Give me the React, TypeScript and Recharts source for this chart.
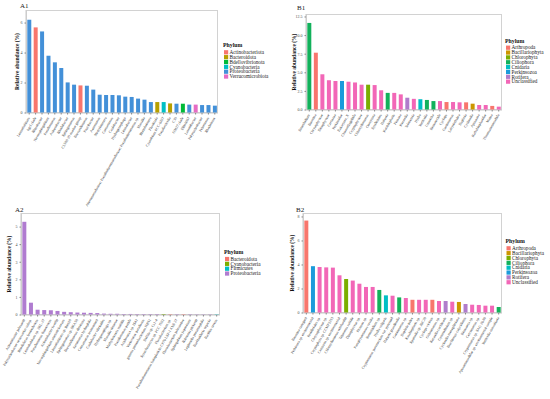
import { BarChart, Bar, XAxis, YAxis, Cell } from 'recharts';

const FONT = '"Liberation Serif", "DejaVu Serif", serif';

// A1 - bacterial genera
const a1Taxa = [
  'Limnohabitans', 'hgcI clade', 'Rhizobacter', 'Novosphingobium', 'Pseudomonas', 'Acinetobacter',
  'Rhodobacter', 'Sphingomonas', 'CL500-29 marine group', 'Brevundimonas', 'Paucibacter', 'Aeromonas',
  'Methylotenera', 'Comamonas', 'Caulobacter', 'Hydrogenophaga', 'Limnobacter',
  'Alteromonadaceae; Pseudoalteromonadaceae; Pseudoalteromonas sp.', 'Massilia', 'Rheinheimera',
  'Fluviicola', 'Cyanobium PCC-6307', 'Pseudarcicella', 'C39', 'OM27 clade', 'Ellin6067',
  'Luteolibacter', 'Polynucleobacter', 'Pelomonas', 'Rhodoferax',
];
const a1Abund = [
  6.22, 5.71, 5.44, 3.82, 3.38, 3.0, 2.04, 1.89, 1.84, 1.82, 1.56, 1.22, 1.2, 1.2, 1.18,
  1.09, 1.07, 0.96, 0.89, 0.73, 0.73, 0.73, 0.64, 0.62, 0.62, 0.56, 0.56, 0.53, 0.53, 0.49,
];
const a1Phyla = [
  'Proteobacteria', 'Actinobacteriota', 'Proteobacteria', 'Proteobacteria', 'Proteobacteria', 'Proteobacteria',
  'Proteobacteria', 'Proteobacteria', 'Actinobacteriota', 'Proteobacteria', 'Proteobacteria', 'Proteobacteria',
  'Proteobacteria', 'Proteobacteria', 'Proteobacteria', 'Proteobacteria', 'Proteobacteria', 'Proteobacteria',
  'Proteobacteria', 'Proteobacteria', 'Bacteroidota', 'Cyanobacteria', 'Bacteroidota', 'Proteobacteria',
  'Bdellovibrionota', 'Proteobacteria', 'Verrucomicrobiota', 'Proteobacteria', 'Proteobacteria', 'Proteobacteria',
];
const a1Colors: Record<string, string> = {
  Actinobacteriota: '#F8766D',
  Bacteroidota: '#B79F00',
  Bdellovibrionota: '#00BA38',
  Cyanobacteria: '#00BFC4',
  Proteobacteria: '#4390D8',
  Verrucomicrobiota: '#E56CC4',
};

// B1 - eukaryotic genera
const b1Taxa = [
  'Strombidium', 'Bosmina', 'Chrysophyceae', 'Dinophyceae', 'Cercozoa', 'Perkinsidae',
  'Eukaryota_X', 'Choanoflagellida', 'Cryptophyceae', 'Chlamydomonas', 'Oomycota', 'Syndiniales',
  'Halteria', 'Katablepharis', 'Picozoa', 'Keratella', 'Telonemia', 'Hydra', 'Vorticella', 'Urotricha',
  'Bicosoecida', 'Cyclops', 'Goniomonas', 'Labyrinthulea', 'Daphnia', 'Cyclotella', 'Apusozoa',
  'Kathablepharidae', 'Moina', 'Thaumatomonadida',
];
const b1Abund = [
  11.7, 7.7, 4.8, 4.0, 3.9, 3.9, 3.8, 3.7, 3.4, 3.4, 3.35, 2.65, 2.3, 2.3, 2.1,
  1.65, 1.5, 1.45, 1.35, 1.2, 1.2, 1.07, 1.07, 1.03, 1.03, 0.85, 0.67, 0.67, 0.55, 0.45,
];
const b1Phyla = [
  'Ciliophora', 'Arthropoda', 'Unclassified', 'Unclassified', 'Unclassified', 'Perkinsozoa',
  'Unclassified', 'Unclassified', 'Unclassified', 'Chlorophyta', 'Unclassified', 'Unclassified',
  'Ciliophora', 'Unclassified', 'Unclassified', 'Rotifera', 'Unclassified', 'Cnidaria',
  'Ciliophora', 'Ciliophora', 'Unclassified', 'Arthropoda', 'Unclassified', 'Unclassified',
  'Arthropoda', 'Bacillariophyta', 'Unclassified', 'Unclassified', 'Arthropoda', 'Unclassified',
];
const bColors: Record<string, string> = {
  Arthropoda: '#F8766D',
  Bacillariophyta: '#CD9600',
  Chlorophyta: '#7CAE00',
  Ciliophora: '#12B15B',
  Cnidaria: '#00BFC4',
  Perkinsozoa: '#1A9BDB',
  Rotifera: '#B07CCB',
  Unclassified: '#F267B7',
};

// A2 - bacterial species
const a2Taxa = [
  'Acinetobacter johnsonii', 'Polynucleobacter necessarius subsp.', 'Rhodoferax ferrireducens',
  'Limnohabitans sp. 2KL-27', 'Pseudomonas fluorescens', 'Acinetobacter lwoffii',
  'Novosphingobium aromaticivorans', 'Limnohabitans sp. Rim28', 'Sphingomonas sp. SKA58',
  'Brevundimonas diminuta', 'Aeromonas hydrophila', 'Comamonas testosteroni', 'Caulobacter vibrioides',
  'Hydrogenophaga sp.', 'Massilia timonae', 'Methylotenera mobilis', 'Pseudomonas putida',
  'Acidovorax sp. JS42', 'Variovorax paradoxus', 'gamma proteobacterium HdN1', 'Delftia sp. Cs1-4',
  'Synechococcus sp. PCC 7502', 'Flavobacterium sp.', 'Pseudoalteromonas haloplanktis CP76 LSP-1 ANS 27',
  'Flavobacterium johnsoniae', 'Sphingobium japonicum', 'Ralstonia pickettii', 'Legionella pneumophila',
  'Burkholderia cepacia', 'Bacillus cereus',
];
const a2Abund = [
  5.3, 0.7, 0.3, 0.28, 0.27, 0.23, 0.18, 0.16, 0.14, 0.13, 0.12, 0.11, 0.08, 0.07, 0.07,
  0.06, 0.06, 0.05, 0.05, 0.05, 0.05, 0.05, 0.04, 0.04, 0.04, 0.04, 0.03, 0.03, 0.03, 0.03,
];
const a2Phyla = [
  'Proteobacteria', 'Proteobacteria', 'Proteobacteria', 'Proteobacteria', 'Proteobacteria', 'Proteobacteria',
  'Proteobacteria', 'Proteobacteria', 'Proteobacteria', 'Proteobacteria', 'Proteobacteria', 'Proteobacteria',
  'Proteobacteria', 'Proteobacteria', 'Proteobacteria', 'Proteobacteria', 'Proteobacteria', 'Proteobacteria',
  'Proteobacteria', 'Proteobacteria', 'Proteobacteria', 'Cyanobacteria', 'Bacteroidota', 'Proteobacteria',
  'Bacteroidota', 'Proteobacteria', 'Proteobacteria', 'Proteobacteria', 'Proteobacteria', 'Firmicutes',
];
const a2Colors: Record<string, string> = {
  Bacteroidota: '#F8766D',
  Cyanobacteria: '#7CAE00',
  Firmicutes: '#00BFC4',
  Proteobacteria: '#B07CD0',
};

// B2 - eukaryotic species
const b2Taxa = [
  'Bosmina coregoni', 'Perkinsea sp. environmental', 'Peridiniales sp.', 'Chrysophyceae sp.',
  'Cryptophyta sp. CCMP2293', 'Cercozoa sp. environmental', 'Chlamydomonas reinhardtii', 'Telonema subtile',
  'Dinophyceae sp.', 'Picozoa sp.', 'Paraphysomonas vestita', 'Strombidium sp.', 'Hydra vulgaris',
  'Cryptomonas paramecium var. pyrenoid', 'Halteria grandinella', 'Goniomonas sp.', 'Daphnia pulex',
  'Katablepharis sp.', 'Spumella sp. JBC28', 'Cyclops vicinus', 'Ochromonas sp.', 'Keratella cochlearis',
  'Gymnodinium sp.', 'Cyclotella meneghiniana', 'Brachionus calyciflorus', 'Bicosoeca sp.',
  'Cercomonas sp.', 'Cryptomonas sp. SAG 26.80', 'Apusomonadidae sp. environmental sample',
  'Vorticella convallaria',
];
const b2Abund = [
  7.7, 3.9, 3.83, 3.8, 3.78, 3.14, 2.83, 2.7, 2.44, 2.17, 2.17, 1.92, 1.47, 1.44, 1.3,
  1.25, 1.1, 1.1, 1.1, 1.1, 1.0, 1.0, 0.94, 0.92, 0.75, 0.69, 0.67, 0.61, 0.61, 0.5,
];
const b2Phyla = [
  'Arthropoda', 'Perkinsozoa', 'Unclassified', 'Unclassified', 'Unclassified', 'Unclassified',
  'Chlorophyta', 'Unclassified', 'Unclassified', 'Unclassified', 'Unclassified', 'Ciliophora',
  'Cnidaria', 'Unclassified', 'Ciliophora', 'Unclassified', 'Arthropoda', 'Unclassified',
  'Unclassified', 'Arthropoda', 'Unclassified', 'Rotifera', 'Unclassified', 'Bacillariophyta',
  'Rotifera', 'Unclassified', 'Unclassified', 'Unclassified', 'Unclassified', 'Ciliophora',
];

const XTick = ({ x, y, payload }: any) => (
  <g transform={`translate(${x},${y + 1})`}>
    <text
      transform="rotate(-60)"
      textAnchor="end"
      dominantBaseline="middle"
      fontSize={3.7}
      fill="#333"
      fontFamily={FONT}
    >
      {payload.value}
    </text>
  </g>
);

interface PanelProps {
  left: number;
  top: number;
  right: number;
  bottom: number;
  taxa: string[];
  abund: number[];
  phyla: string[];
  colors: Record<string, string>;
  domainMax: number;
  ticks: number[];
  decimals: number;
  labelOffset: number;
}

const Panel = ({ left, top, right, bottom, taxa, abund, phyla, colors, domainMax, ticks, decimals, labelOffset }: PanelProps) => {
  const data = taxa.map((name, i) => ({ name, value: abund[i], phylum: phyla[i] }));
  const yw = 25;
  const xh = 115;
  const w = right - left + yw + 5;
  const h = bottom - top + 5 + xh;
  return (
    <div style={{ position: 'absolute', left: left - yw, top: top - 5, width: w, height: h }}>
      <div
        style={{
          position: 'absolute',
          left: yw,
          top: 5,
          width: right - left,
          height: bottom - top,
          border: '1px solid #d2d2d2',
          boxSizing: 'border-box',
        }}
      />
      <div style={{ position: 'absolute', left: 0, top: 0 }}>
        <BarChart width={w} height={h} data={data} margin={{ top: 5, right: 5, left: 0, bottom: 0 }} barCategoryGap="20%">
          <XAxis
            dataKey="name"
            interval={0}
            height={xh}
            tick={<XTick />}
            tickSize={1.5}
            tickLine={{ stroke: '#888' }}
            axisLine={{ stroke: '#c8c8c8' }}
          />
          <YAxis
            width={yw}
            domain={[0, domainMax]}
            ticks={ticks}
            tickSize={1.5}
            tickLine={{ stroke: '#888' }}
            axisLine={{ stroke: '#c8c8c8' }}
            tickFormatter={(v: number) => v.toFixed(decimals)}
            tick={{ fontSize: 4, fill: '#4d4d4d', fontFamily: FONT }}
            allowDataOverflow
            label={{
              value: 'Relative abundance (%)',
              angle: -90,
              position: 'insideLeft',
              offset: labelOffset,
              style: { textAnchor: 'middle', fontWeight: 'bold', fontSize: 5.5, fill: '#111', fontFamily: FONT },
            }}
          />
          <Bar dataKey="value" isAnimationActive={false}>
            {data.map((d, i) => (
              <Cell key={`c-${i}`} fill={colors[d.phylum]} />
            ))}
          </Bar>
        </BarChart>
      </div>
    </div>
  );
};

const LegendBox = ({ x, titleY, firstY, colors }: { x: number; titleY: number; firstY: number; colors: Record<string, string> }) => (
  <g fontFamily={FONT}>
    <text x={x - 1} y={titleY + 2} fontSize={5.8} fontWeight="bold" fill="#111">Phylum</text>
    {Object.keys(colors).map((name, i) => (
      <g key={name}>
        <rect x={x} y={firstY + i * 4.85 - 2.1} width={4.2} height={4.2} fill={colors[name]} />
        <text x={x + 5.5} y={firstY + i * 4.85 + 1.7} fontSize={5.2} fill="#222">{name}</text>
      </g>
    ))}
  </g>
);

const App = () => (
  <div style={{ position: 'absolute', left: 0, top: 0, width: 550, height: 399, background: '#fff', overflow: 'hidden' }}>
    <Panel left={26} top={10} right={218} bottom={113} taxa={a1Taxa} abund={a1Abund} phyla={a1Phyla}
      colors={a1Colors} domainMax={6.87} ticks={[0, 2, 4, 6]} decimals={0} labelOffset={16} />
    <Panel left={306} top={14} right={502} bottom={110} taxa={b1Taxa} abund={b1Abund} phyla={b1Phyla}
      colors={bColors} domainMax={12.9} ticks={[0, 2.5, 5, 7.5, 10, 12.5]} decimals={1} labelOffset={13} />
    <Panel left={21} top={213} right={220} bottom={315} taxa={a2Taxa} abund={a2Abund} phyla={a2Phyla}
      colors={a2Colors} domainMax={5.8} ticks={[0, 1, 2, 3, 4, 5]} decimals={0} labelOffset={13} />
    <Panel left={303} top={213} right={502} bottom={313} taxa={b2Taxa} abund={b2Abund} phyla={b2Phyla}
      colors={bColors} domainMax={8.33} ticks={[0, 2, 4, 6, 8]} decimals={0} labelOffset={14} />
    <svg width={550} height={399} style={{ position: 'absolute', left: 0, top: 0, pointerEvents: 'none' }}>
      <g fontFamily={FONT} fontSize={7} fill="#222">
        <text x={20} y={8}>A1</text>
        <text x={297} y={10}>B1</text>
        <text x={15} y={211.5}>A2</text>
        <text x={296} y={211.5}>B2</text>
      </g>
      <LegendBox x={224} titleY={45} firstY={52.3} colors={a1Colors} />
      <LegendBox x={506} titleY={41} firstY={47.7} colors={bColors} />
      <LegendBox x={225} titleY={251.5} firstY={259} colors={a2Colors} />
      <LegendBox x={506.5} titleY={241} firstY={248.3} colors={bColors} />
    </svg>
  </div>
);

export default App;
